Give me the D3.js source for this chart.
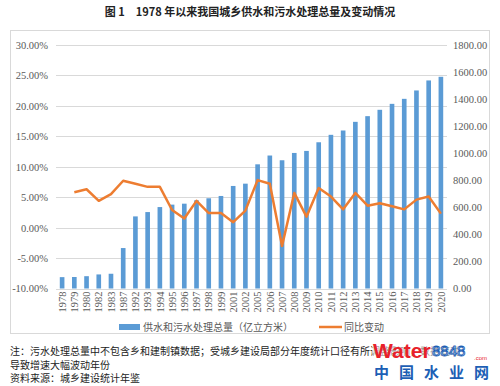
<!DOCTYPE html>
<html>
<head>
<meta charset="utf-8">
<script src="https://cdn.jsdelivr.net/npm/d3@7"></script>
<style>
  body { margin: 0; background: #fff; }
  svg { display: block; }
  .tick text { font-family: "Liberation Serif", "Times New Roman", serif; font-size: 10.5px; fill: #595959; }
</style>
</head>
<body>
<svg width="500" height="386"></svg>
<script>
// 年份（类别）
const years = ["1978","1979","1980","1982","1983","1987","1992","1993","1994","1995","1996","1997","1998","1999","2001","2002","2005","2006","2007","2008","2009","2010","2011","2012","2013","2014","2015","2016","2017","2018","2019","2020"];

// 供水和污水处理总量（亿立方米）
const totals = [84,85,91,104,109,299,533,565,602,620,627,652,667,684,758,775,918,983,948,1002,1017,1081,1136,1168,1232,1274,1321,1365,1402,1464,1538,1565];

// 同比变动（%），1978 年无数据
const yoy = [null,5.8,6.3,4.4,5.5,7.7,7.2,6.7,6.7,2.9,1.5,4.4,2.4,2.4,0.9,2.8,7.8,7.2,-3.0,5.7,1.8,6.5,5.1,3.0,5.7,3.6,4.0,3.5,3.0,4.6,5.1,2.3];

const leftTicks = [-10,-5,0,5,10,15,20,25,30];
const rightTicks = [0,200,400,600,800,1000,1200,1400,1600,1800];

const svg = d3.select("svg");
const plot = { left: 56, right: 447, top: 45, bottom: 288.5 };

// 标题
svg.append("text")
    .attr("x", 250).attr("y", 15.5)
    .attr("text-anchor", "middle")
    .style("font-family", "'Noto Sans CJK SC', sans-serif")
    .style("font-size", "11px")
    .style("font-weight", "bold")
    .style("fill", "#222")
    .text("图 1　1978 年以来我国城乡供水和污水处理总量及变动情况");

// 图表外框
svg.append("rect")
    .attr("x", 10.5).attr("y", 30.5)
    .attr("width", 479).attr("height", 303)
    .attr("fill", "none")
    .attr("stroke", "#d9d9d9");

const x = d3.scaleBand().domain(years).range([plot.left, plot.right]).paddingInner(0.62).paddingOuter(0.31);
const yL = d3.scaleLinear().domain([-10, 30]).range([plot.bottom, plot.top]);
const yR = d3.scaleLinear().domain([0, 1800]).range([plot.bottom, plot.top]);

// 网格线
svg.append("g")
    .selectAll("line")
    .data(leftTicks)
  .enter().append("line")
    .attr("x1", plot.left).attr("x2", plot.right)
    .attr("y1", d => Math.round(yL(d)) + 0.5)
    .attr("y2", d => Math.round(yL(d)) + 0.5)
    .attr("stroke", "#d9d9d9");

// 左轴
const axL = svg.append("g")
    .attr("transform", "translate(" + plot.left + ",0)")
    .call(d3.axisLeft(yL).tickValues(leftTicks).tickSize(0).tickPadding(8).tickFormat(d => d.toFixed(2) + "%"));
axL.select(".domain").remove();

// 右轴
const axR = svg.append("g")
    .attr("transform", "translate(" + plot.right + ",0)")
    .call(d3.axisRight(yR).tickValues(rightTicks).tickSize(0).tickPadding(6).tickFormat(d => d.toFixed(2)));
axR.select(".domain").remove();

// 柱子
svg.append("g")
    .selectAll("rect")
    .data(years)
  .enter().append("rect")
    .attr("x", d => x(d))
    .attr("width", x.bandwidth())
    .attr("y", (d, i) => yR(totals[i]))
    .attr("height", (d, i) => yR(0) - yR(totals[i]))
    .attr("fill", "#5B9BD5");

// 折线
const line = d3.line()
    .defined(d => d.v !== null)
    .x(d => x(d.year) + x.bandwidth() / 2)
    .y(d => yL(d.v));

svg.append("path")
    .datum(years.map((y, i) => ({ year: y, v: yoy[i] })))
    .attr("d", line)
    .attr("fill", "none")
    .attr("stroke", "#ED7D31")
    .attr("stroke-width", 2.5)
    .attr("stroke-linejoin", "round");

// X 轴标签（竖排）
const axX = svg.append("g")
    .attr("transform", "translate(0," + (plot.bottom + 3) + ")")
    .call(d3.axisBottom(x).tickSize(0).tickPadding(0));
axX.select(".domain").remove();
axX.selectAll("text")
    .attr("transform", "rotate(-90)")
    .attr("x", 0).attr("y", 0)
    .attr("dx", 0).attr("dy", "0.35em")
    .attr("text-anchor", "end");

// 图例
const legend = svg.append("g").style("font-family", "'Noto Sans CJK SC', sans-serif").style("font-size", "10px").style("fill", "#595959");
legend.append("rect").attr("x", 119).attr("y", 324).attr("width", 21).attr("height", 6).attr("fill", "#5B9BD5");
legend.append("text").attr("x", 143).attr("y", 330.5).text("供水和污水处理总量（亿立方米）");
legend.append("line").attr("x1", 319).attr("x2", 342).attr("y1", 327).attr("y2", 327).attr("stroke", "#ED7D31").attr("stroke-width", 2.5);
legend.append("text").attr("x", 344).attr("y", 330.5).text("同比变动");

// 注释
const notes = [
    "注：污水处理总量中不包含乡和建制镇数据；受城乡建设局部分年度统计口径有所调整影响，数据变动",
    "导致增速大幅波动年份",
    "资料来源：城乡建设统计年鉴"
];
svg.append("g")
    .selectAll("text")
    .data(notes)
  .enter().append("text")
    .attr("x", 10)
    .attr("y", (d, i) => 355 + i * 13.5)
    .style("font-family", "'Noto Sans CJK SC', sans-serif")
    .style("font-size", "10px")
    .style("fill", "#222")
    .text(d => d);

// 水印
const wm = svg.append("g");
wm.append("rect").attr("x", 372).attr("y", 341).attr("width", 118).attr("height", 45).attr("fill", "#fff").attr("opacity", 0.55);
wm.append("text").attr("x", 373).attr("y", 358)
    .style("font-family", "'Liberation Sans', Arial, sans-serif").style("font-size", "21px").style("font-weight", "bold")
    .style("fill", "#e8212a").text("Water");
wm.append("text").attr("x", 432).attr("y", 356)
    .style("font-family", "'Liberation Sans', Arial, sans-serif").style("font-size", "15px")
    .style("fill", "#fff").style("stroke", "#1d5fb5").style("stroke-width", 0.9).text("8848");
wm.append("text").attr("x", 474).attr("y", 360)
    .style("font-family", "'Liberation Sans', Arial, sans-serif").style("font-size", "6px")
    .style("fill", "#e8212a").text(".com");
wm.append("g")
    .selectAll("text")
    .data(["中", "国", "水", "业", "网"])
  .enter().append("text")
    .attr("x", (d, i) => 374 + i * 25)
    .attr("y", 378)
    .style("font-family", "'Noto Sans CJK SC', sans-serif").style("font-size", "15px").style("font-weight", "bold")
    .style("fill", "#1d5fb5")
    .text(d => d);
</script>
</body>
</html>
